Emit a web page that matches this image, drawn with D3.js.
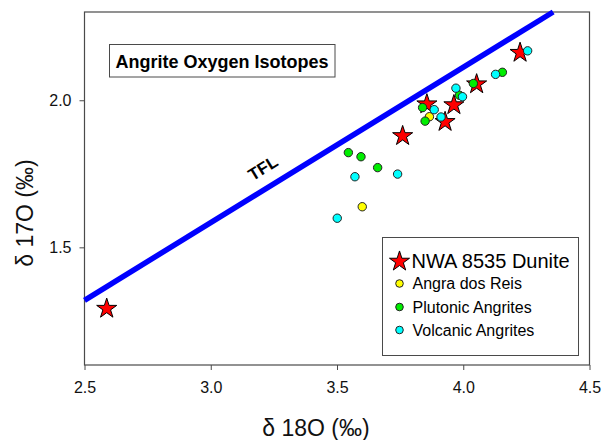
<!DOCTYPE html>
<html>
<head>
<meta charset="utf-8">
<script src="https://cdn.jsdelivr.net/npm/d3@7"></script>
<style>
  html, body { margin: 0; padding: 0; background: #fff; }
  svg { display: block; font-family: "Liberation Sans", Arial, sans-serif; }
</style>
</head>
<body>
<svg id="chart" width="603" height="440"></svg>
<script>
// δ18O / δ17O (‰) for each group
const dunite = [
  [2.588, 1.295], [3.760, 1.882], [3.856, 1.990], [3.963, 1.987],
  [3.928, 1.930], [4.053, 2.058], [4.225, 2.165]
];
const angraDosReis = [
  [3.866, 1.944], [3.600, 1.638]
];
const plutonic = [
  [4.040, 2.057], [4.155, 2.095], [3.985, 2.017], [3.839, 1.975],
  [3.849, 1.929], [3.545, 1.822], [3.595, 1.808], [3.661, 1.771]
];
const volcanic = [
  [4.255, 2.168], [4.128, 2.088], [3.971, 2.041], [3.997, 2.012],
  [3.885, 1.968], [3.912, 1.943], [3.571, 1.740], [3.740, 1.749],
  [3.501, 1.599]
];
const xTicks = [2.5, 3.0, 3.5, 4.0, 4.5];
const yTicks = [1.5, 2.0];
const tflSlope = 0.528;   // terrestrial fractionation line: δ17O = 0.528 · δ18O
const legendLabels = ["NWA 8535 Dunite", "Angra dos Reis", "Plutonic Angrites", "Volcanic Angrites"];

const svg = d3.select("#chart");
const x = d3.scaleLinear().domain([2.5, 4.5]).range([84.5, 589.5]);
const y = d3.scaleLinear().domain([1.1, 2.3]).range([365, 12]);

const frameColor = "#4a4a4a";

// axes
const xAxis = svg.append("g")
  .attr("transform", `translate(0,${y(1.1)})`)
  .call(d3.axisBottom(x).tickValues(xTicks).tickFormat(d3.format(".1f")).tickSize(5).tickPadding(12));
const yAxis = svg.append("g")
  .attr("transform", `translate(${x(2.5)},0)`)
  .call(d3.axisLeft(y).tickValues(yTicks).tickFormat(d3.format(".1f")).tickSize(5).tickPadding(8));
[xAxis, yAxis].forEach(g => {
  g.select(".domain").remove();
  g.selectAll(".tick line").attr("stroke", frameColor);
  g.selectAll(".tick text").attr("fill", "#111").style("font-size", "16px")
    .style("font-family", "'Liberation Sans', Arial, sans-serif");
});

// plot frame
svg.append("rect")
  .attr("x", x(2.5)).attr("y", y(2.3))
  .attr("width", x(4.5) - x(2.5)).attr("height", y(1.1) - y(2.3))
  .attr("fill", "none").attr("stroke", frameColor).attr("stroke-width", 1.2);

// axis titles
svg.append("text")
  .attr("x", 316).attr("y", 436)
  .attr("text-anchor", "middle")
  .style("font-size", "23px").attr("fill", "#111")
  .text("δ 18O (‰)");
svg.append("text")
  .attr("transform", "translate(33,213) rotate(-90)")
  .attr("text-anchor", "middle")
  .style("font-size", "23px").attr("fill", "#111")
  .text("δ 17O (‰)");

// TFL
const tflX = [2.5, 2.3 / tflSlope];
svg.append("line")
  .attr("x1", x(tflX[0])).attr("y1", y(tflSlope * tflX[0]))
  .attr("x2", x(tflX[1])).attr("y2", y(tflSlope * tflX[1]))
  .attr("stroke", "#0000ff").attr("stroke-width", 5.5);
const tflAngle = Math.atan2(y(tflSlope * tflX[1]) - y(tflSlope * tflX[0]), x(tflX[1]) - x(tflX[0])) * 180 / Math.PI;
svg.append("text")
  .attr("transform", `translate(266,173) rotate(${tflAngle})`)
  .attr("text-anchor", "middle")
  .style("font-size", "17px").style("font-weight", "bold").attr("fill", "#000")
  .text("TFL");

// title box
svg.append("rect")
  .attr("x", 109.5).attr("y", 44.5).attr("width", 225.5).attr("height", 32.5)
  .attr("fill", "#fff").attr("stroke", frameColor).attr("stroke-width", 1);
svg.append("text")
  .attr("x", 222).attr("y", 67.5)
  .attr("text-anchor", "middle")
  .style("font-size", "18px").style("font-weight", "bold").attr("fill", "#000")
  .text("Angrite Oxygen Isotopes");

// markers
const star = d3.symbol().type(d3.symbolStar).size(125);
svg.append("g").selectAll("path").data(dunite).join("path")
  .attr("transform", d => `translate(${x(d[0])},${y(d[1]) + 1})`)
  .attr("d", star)
  .attr("fill", "#ff0000").attr("stroke", "#000").attr("stroke-width", 1);

const circleGroups = [
  [angraDosReis, "#ffff00"],
  [plutonic, "#00ee00"],
  [volcanic, "#00ffff"]
];
circleGroups.forEach(([data, color]) => {
  svg.append("g").selectAll("circle").data(data).join("circle")
    .attr("cx", d => x(d[0])).attr("cy", d => y(d[1]))
    .attr("r", 4.2)
    .attr("fill", color).attr("stroke", "#222").attr("stroke-width", 1);
});

// legend
const lg = svg.append("g");
lg.append("rect")
  .attr("x", 382.5).attr("y", 237.5).attr("width", 196).attr("height", 118)
  .attr("fill", "#fff").attr("stroke", frameColor).attr("stroke-width", 1);
const rowY = [260.5, 283.5, 307, 330];
lg.append("path")
  .attr("transform", `translate(399.5,${rowY[0] + 1})`)
  .attr("d", star)
  .attr("fill", "#ff0000").attr("stroke", "#000").attr("stroke-width", 1);
circleGroups.forEach(([, color], i) => {
  lg.append("circle")
    .attr("cx", 399.5).attr("cy", rowY[i + 1]).attr("r", 3.8)
    .attr("fill", color).attr("stroke", "#222").attr("stroke-width", 1);
});
legendLabels.forEach((t, i) => {
  lg.append("text")
    .attr("x", i === 0 ? 411.5 : 412.5).attr("y", rowY[i])
    .attr("dy", "0.36em")
    .style("font-size", i === 0 ? "20px" : "16px").attr("fill", "#000")
    .text(t);
});
</script>
</body>
</html>
